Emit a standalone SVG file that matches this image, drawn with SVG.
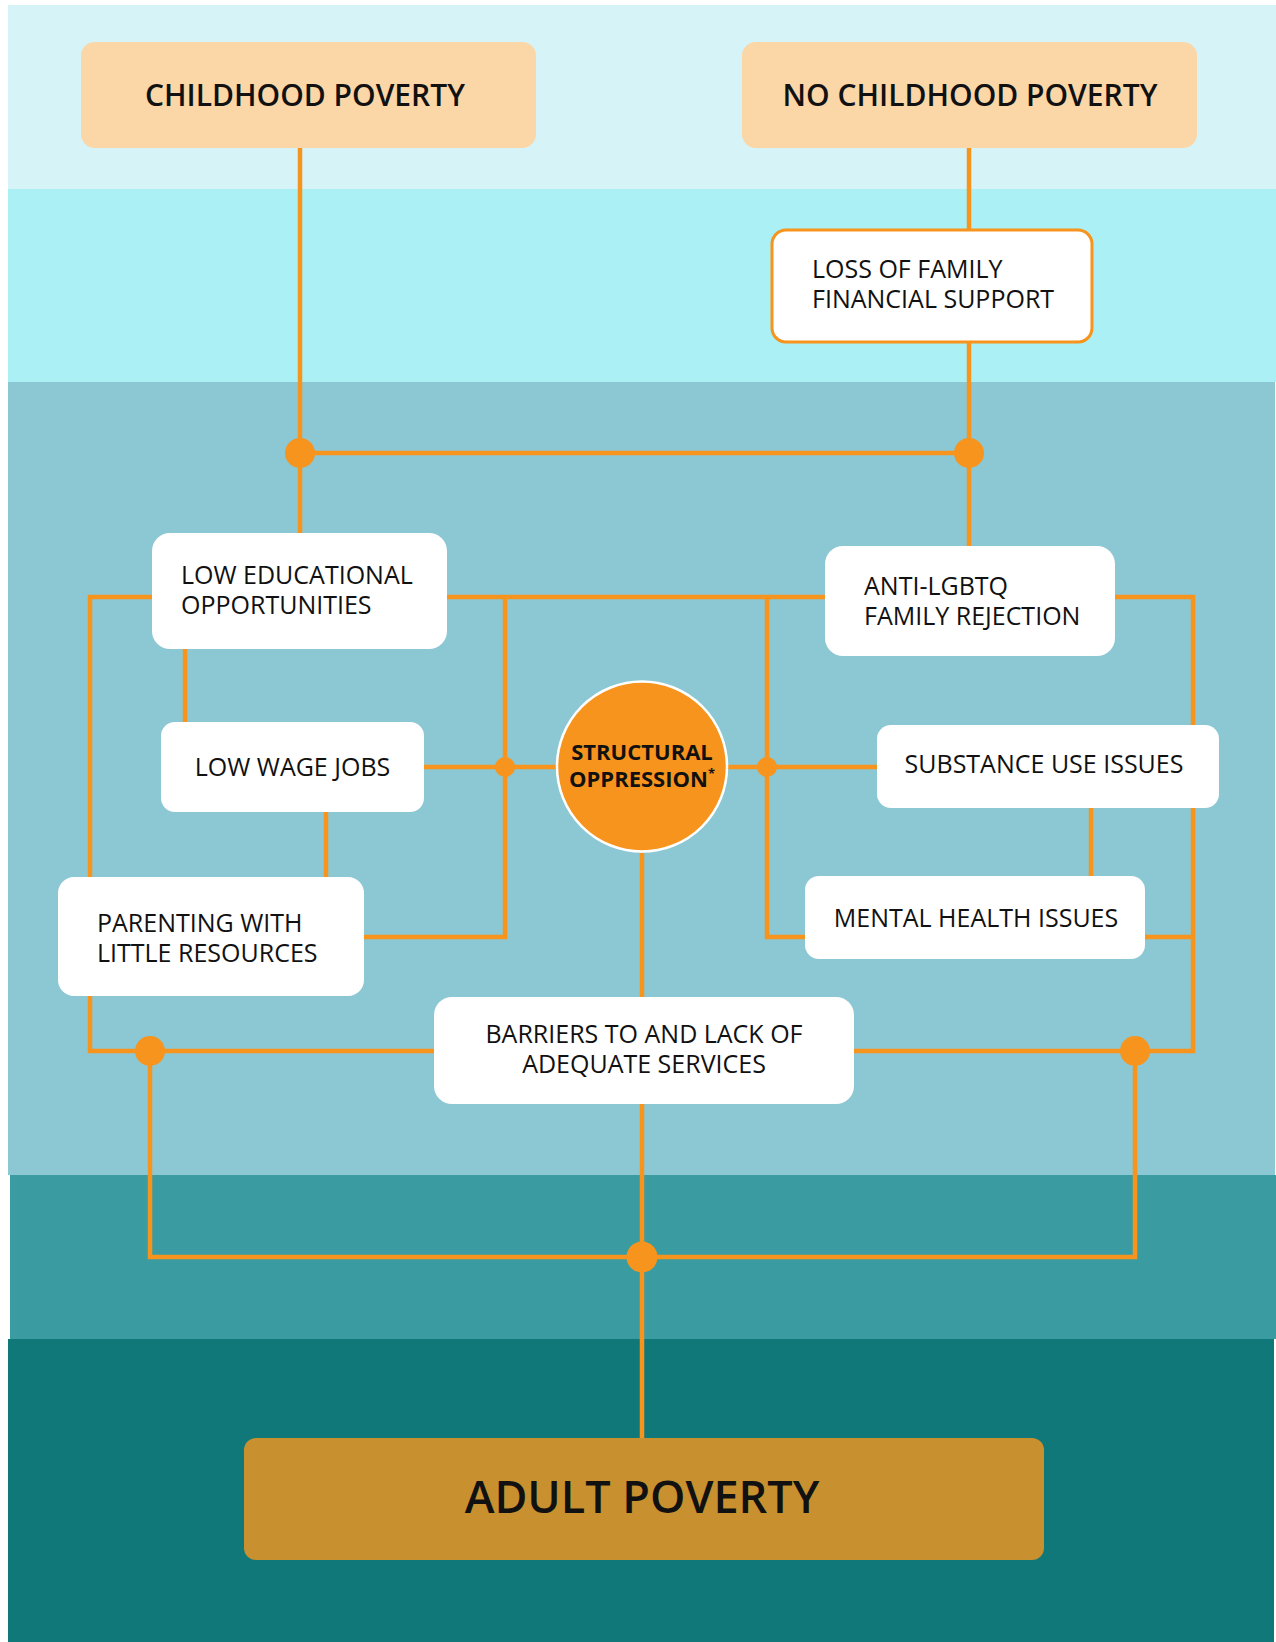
<svg xmlns="http://www.w3.org/2000/svg" width="1276" height="1642" viewBox="0 0 1276 1642">
<style>
.ln{fill:none;stroke:#f7941d;stroke-width:4.5;stroke-linejoin:miter;stroke-linecap:butt}
.dot{fill:#f7941d}
.wb{fill:#ffffff}
.pb{fill:#fbd6a6}
.t{font-family:"Open Sans","Noto Sans","DejaVu Sans",sans-serif;fill:#111111;font-size:25px}
.tc{text-anchor:middle}
.h1{font-size:30px;font-weight:600}
.so{font-size:22px;font-weight:700}
.ap{font-size:45px;font-weight:600}
</style>
<rect x="0" y="0" width="1276" height="1642" fill="#ffffff"/>
<g id="bands">
<rect x="8" y="5" width="1268" height="184" fill="#d6f3f7"/>
<rect x="8" y="189" width="1268" height="193" fill="#aaf0f5"/>
<rect x="8" y="382" width="1267" height="793" fill="#8cc7d4"/>
<rect x="10" y="1175" width="1266" height="164" fill="#3a9ba0"/>
<rect x="8" y="1339" width="1266" height="303" fill="#107879"/>
</g>
<g id="connectors">
<path class="ln" d="M300 148 V533"/>
<path class="ln" d="M969 148 V230 M969 342 V546"/>
<path class="ln" d="M300 453 H969"/>
<path class="ln" d="M90 597 H1193 V1051 H90 Z"/>
<path class="ln" d="M505 597 V937 H364"/>
<path class="ln" d="M185 649 V722"/>
<path class="ln" d="M326 812 V877"/>
<path class="ln" d="M424 767 H877"/>
<path class="ln" d="M767 597 V937 H805"/>
<path class="ln" d="M1091 808 V876"/>
<path class="ln" d="M1145 937 H1193"/>
<path class="ln" d="M642 853 V1438"/>
<path class="ln" d="M150 1051 V1257 H1135 V1051"/>
<circle class="dot" cx="300" cy="453" r="15"/>
<circle class="dot" cx="969" cy="453" r="15"/>
<circle class="dot" cx="150" cy="1051" r="15"/>
<circle class="dot" cx="1135" cy="1051" r="15"/>
<circle class="dot" cx="642" cy="1257" r="15.5"/>
<circle class="dot" cx="505" cy="767" r="10"/>
<circle class="dot" cx="767" cy="767" r="10"/>
</g>
<g id="childhood-poverty">
<rect class="pb" x="81" y="42" width="455" height="106" rx="14"/>
<text class="t h1 tc" x="305" y="106">CHILDHOOD POVERTY</text>
</g>
<g id="no-childhood-poverty">
<rect class="pb" x="742" y="42" width="455" height="106" rx="14"/>
<text class="t h1 tc" x="970" y="106">NO CHILDHOOD POVERTY</text>
</g>
<g id="loss-of-family-support">
<rect class="wb" x="772" y="230" width="320" height="112" rx="14" stroke="#f7941d" stroke-width="3"/>
<text class="t" x="812" y="278">LOSS OF FAMILY<tspan x="812" y="308">FINANCIAL SUPPORT</tspan></text>
</g>
<g id="low-educational">
<rect class="wb" x="152" y="533" width="295" height="116" rx="18"/>
<text class="t" x="181" y="584">LOW EDUCATIONAL<tspan x="181" y="614">OPPORTUNITIES</tspan></text>
</g>
<g id="anti-lgbtq">
<rect class="wb" x="825" y="546" width="290" height="110" rx="18"/>
<text class="t" x="864" y="595">ANTI-LGBTQ<tspan x="864" y="625">FAMILY REJECTION</tspan></text>
</g>
<g id="low-wage-jobs">
<rect class="wb" x="161" y="722" width="263" height="90" rx="14"/>
<text class="t tc" x="292.5" y="776">LOW WAGE JOBS</text>
</g>
<g id="structural-oppression">
<circle cx="642" cy="766.5" r="85" fill="#f7941d" stroke="#ffffff" stroke-width="2.5"/>
<text class="t so tc" x="642" y="760">STRUCTURAL<tspan x="642" y="787">OPPRESSION</tspan><tspan font-size="13" dy="-9">*</tspan></text>
</g>
<g id="substance-use">
<rect class="wb" x="877" y="725" width="342" height="83" rx="14"/>
<text class="t tc" x="1044" y="773">SUBSTANCE USE ISSUES</text>
</g>
<g id="parenting">
<rect class="wb" x="58" y="877" width="306" height="119" rx="16"/>
<text class="t" x="97" y="932">PARENTING WITH<tspan x="97" y="962">LITTLE RESOURCES</tspan></text>
</g>
<g id="mental-health">
<rect class="wb" x="805" y="876" width="340" height="83" rx="14"/>
<text class="t tc" x="976" y="927">MENTAL HEALTH ISSUES</text>
</g>
<g id="barriers">
<rect class="wb" x="434" y="997" width="420" height="107" rx="18"/>
<text class="t tc" x="644" y="1043">BARRIERS TO AND LACK OF<tspan x="644" y="1073">ADEQUATE SERVICES</tspan></text>
</g>
<g id="adult-poverty">
<rect x="244" y="1438" width="800" height="122" rx="12" fill="#c8902f"/>
<text class="t ap tc" x="642" y="1513">ADULT POVERTY</text>
</g>
</svg>
